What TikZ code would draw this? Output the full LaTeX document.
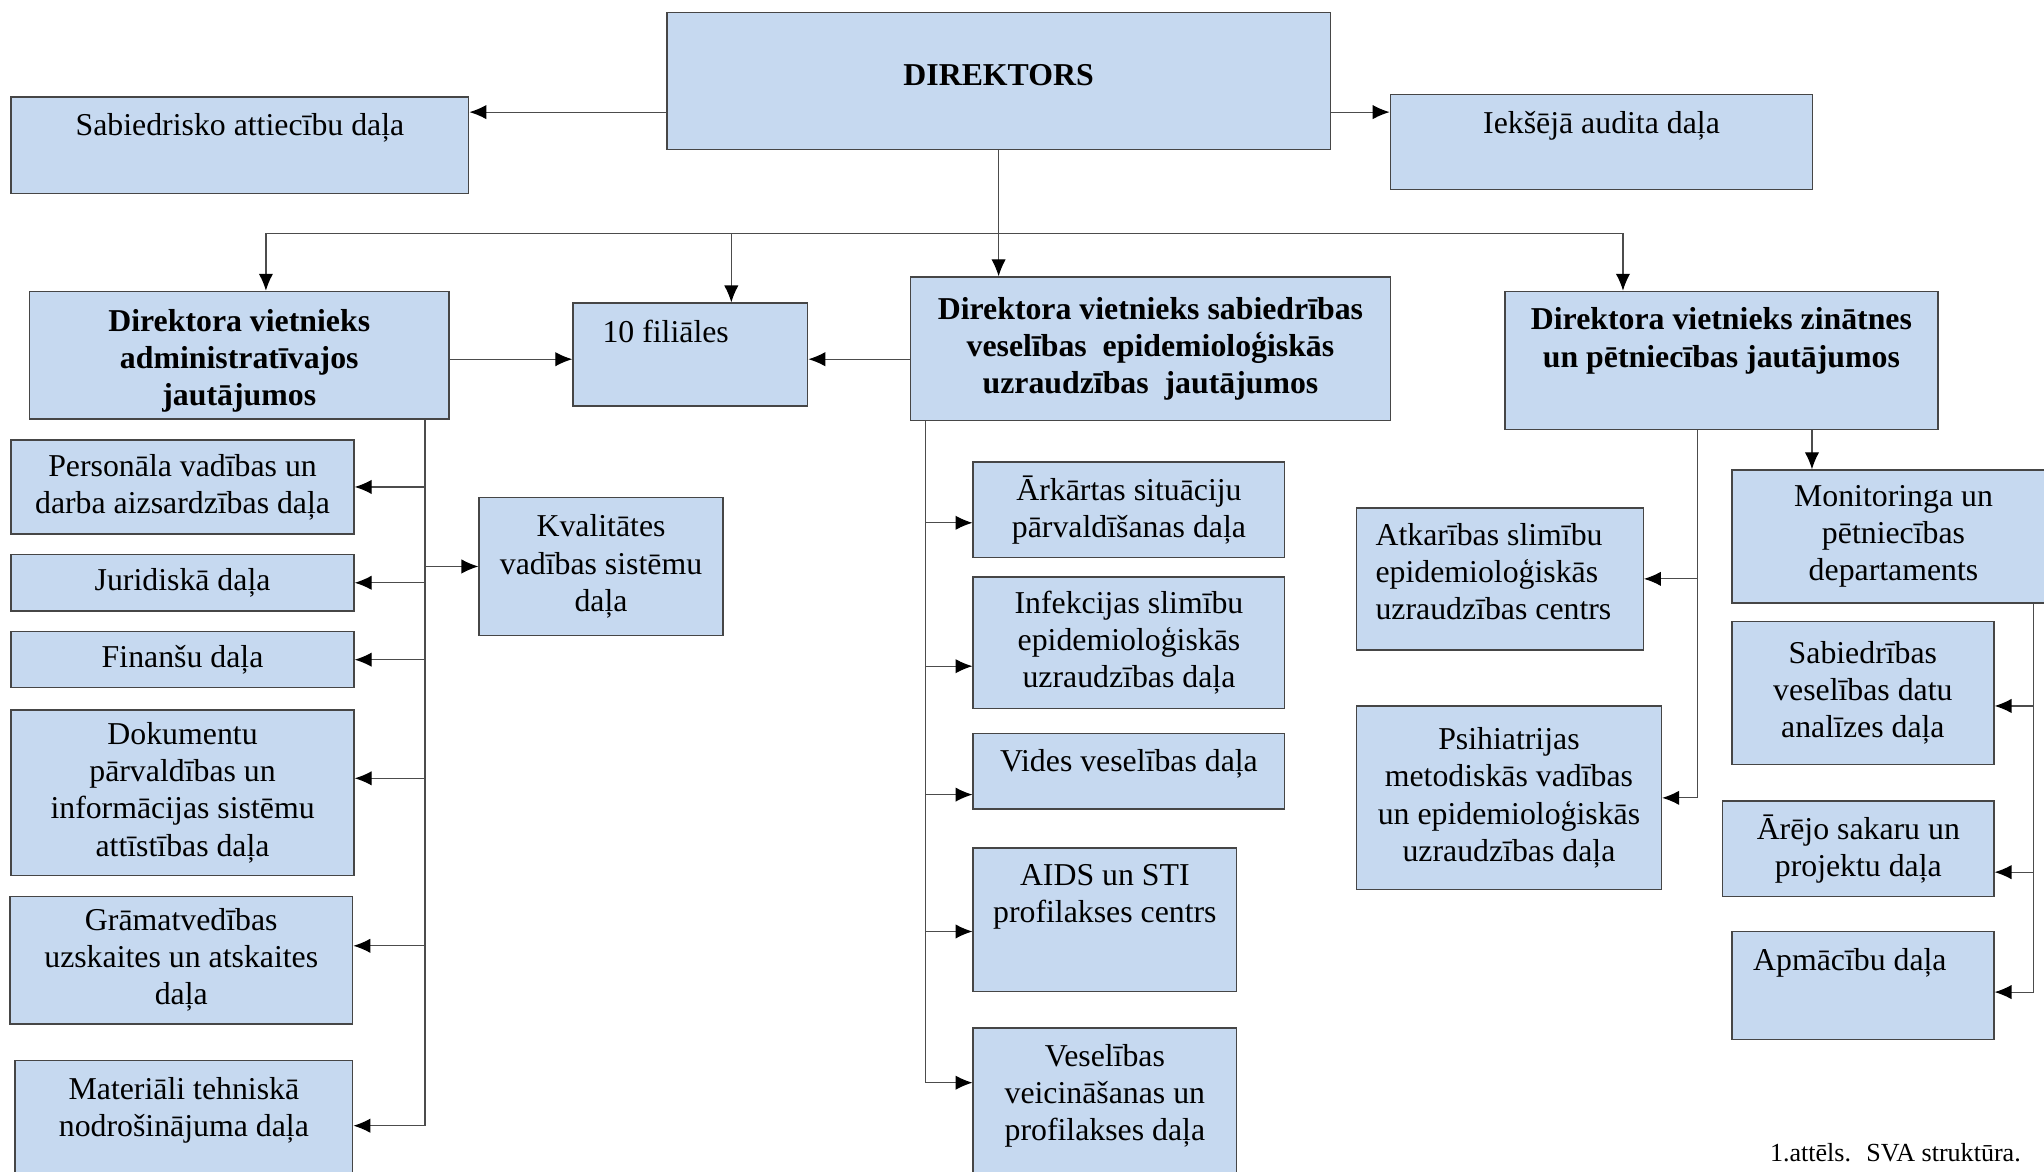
\documentclass[tikz,border=0pt]{standalone}
\usepackage{fontspec}
\setmainfont{Liberation Serif}
\usetikzlibrary{arrows.meta}

\definecolor{boxblue}{RGB}{198,217,240}
\definecolor{edgegray}{RGB}{70,70,70}

\tikzset{
  box/.style={draw=edgegray, fill=boxblue, line width=1.1pt, anchor=north west,
    inner sep=0pt, align=center, font=\fontsize{24.4}{28.5}\selectfont},
  headbox/.style={box, font=\bfseries\fontsize{24.4}{28.5}\selectfont},
  toptext/.style={anchor=north, yshift=-13pt, align=center, inner sep=0pt},
  link/.style={draw=black!70, line width=0.9pt},
}

\begin{document}
\begin{tikzpicture}[x=1pt, y=-1pt, >={Latex[length=13pt,width=11pt,color=black]},
  every label/.style={font=\fontsize{24.4}{28.5}\selectfont}]

  \useasboundingbox (0,0) rectangle (1568,899);
  \clip (0,0) rectangle (1568,899);

  % Top level
  \node[headbox, minimum width=509pt, minimum height=105pt,
    label={[toptext, yshift=-27pt, font=\bfseries\fontsize{24.4}{28.5}\selectfont]north:DIREKTORS}] (dir) at (511,9) {};
  \node[box, minimum width=351pt, minimum height=74pt,
    label={[toptext]north:Sabiedrisko attiecību daļa}] (sab) at (8,74) {};
  \node[box, minimum width=324pt, minimum height=73pt,
    label={[toptext]north:Iekšējā audita daļa}] (iek) at (1066,72) {};

  % Deputies
  \node[headbox, minimum width=322pt, minimum height=98pt,
    label={[toptext, yshift=-1pt, font=\bfseries\fontsize{24.4}{28.5}\selectfont]north:Direktora vietnieks\\administratīvajos\\jautājumos}] (adm) at (22,223) {};
  \node[box, minimum width=180pt, minimum height=79pt,
    label={[toptext, anchor=north west, xshift=23pt]north west:10 filiāles}] (fil) at (439,232) {};
  \node[headbox, minimum width=368pt, minimum height=110pt] (vsab) at (698,212)
    {Direktora vietnieks sabiedrības\\veselības~ epidemioloģiskās\\uzraudzības~ jautājumos};
  \node[box, minimum width=332pt, minimum height=106pt,
    label={[toptext, font=\bfseries\fontsize{24.4}{28.5}\selectfont]north:Direktora vietnieks zinātnes\\un pētniecības jautājumos}] (zin) at (1154,223) {};

  % Administrative units
  \node[box, minimum width=263pt, minimum height=72pt] (pers) at (8,337) {Personāla vadības un\\darba aizsardzības daļa};
  \node[box, minimum width=263pt, minimum height=43pt] (jur) at (8,425) {Juridiskā daļa};
  \node[box, minimum width=263pt, minimum height=43pt] (fin) at (8,484) {Finanšu daļa};
  \node[box, minimum width=263pt, minimum height=127pt] (dok) at (8,544)
    {Dokumentu\\pārvaldības un\\informācijas sistēmu\\attīstības daļa};
  \node[box, minimum width=263pt, minimum height=98pt] (gram) at (7,687)
    {Grāmatvedības\\uzskaites un atskaites\\daļa};
  \node[box, minimum width=259pt, minimum height=100pt,
    label={[toptext]north:Materiāli tehniskā\\nodrošinājuma daļa}] (mat) at (11,813) {};
  \node[box, minimum width=187pt, minimum height=106pt] (kval) at (367,381)
    {Kvalitātes\\vadības sistēmu\\daļa};

  % Public health units
  \node[box, minimum width=239pt, minimum height=73pt] (ark) at (746,354) {Ārkārtas situāciju\\pārvaldīšanas daļa};
  \node[box, minimum width=239pt, minimum height=101pt] (inf) at (746,442)
    {Infekcijas slimību\\epidemioloģiskās\\uzraudzības daļa};
  \node[box, minimum width=239pt, minimum height=58pt,
    label={[toptext]north:Vides veselības daļa}] (vid) at (746,562) {};
  \node[box, minimum width=202pt, minimum height=110pt,
    label={[toptext]north:AIDS un STI\\profilakses centrs}] (aids) at (746,650) {};
  \node[box, minimum width=202pt, minimum height=112pt,
    label={[toptext]north:Veselības\\veicināšanas un\\profilakses daļa}] (vesp) at (746,788) {};

  % Science units
  \node[box, minimum width=220pt, minimum height=109pt,
    label={[toptext, anchor=north west, yshift=1pt, xshift=15pt, align=left]north west:Atkarības slimību\\epidemioloģiskās\\uzraudzības centrs}] (atk) at (1040,389) {};
  \node[box, minimum width=234pt, minimum height=141pt] (psi) at (1040,541)
    {Psihiatrijas\\metodiskās vadības\\un epidemioloģiskās\\uzraudzības daļa};
  \node[box, minimum width=248pt, minimum height=102pt] (mon) at (1328,360)
    {Monitoringa un\\pētniecības\\departaments};
  \node[box, minimum width=201pt, minimum height=110pt] (sabv) at (1328,476)
    {Sabiedrības\\veselības datu\\analīzes daļa};
  \node[box, minimum width=208pt, minimum height=73pt] (arej) at (1321,614) {Ārējo sakaru un\\projektu daļa};
  \node[box, minimum width=201pt, minimum height=83pt,
    label={[toptext, xshift=-10pt]north:Apmācību daļa}] (apm) at (1328,714) {};

  % Caption
  \node[font=\fontsize{20}{24}\selectfont] (cap) at (1454,884) {1.attēls.~ SVA struktūra.};

  % Links from the director
  \coordinate (busL) at (204,179);
  \coordinate (busF) at (561,179);
  \coordinate (busR) at (1245,179);
  \draw[link, ->] (dir.west |- 0,86) -- (sab.east |- 0,86);
  \draw[link, ->] (dir.east |- 0,86) -- (iek.west |- 0,86);
  \draw[link, ->] (dir.south) -- (dir.south |- vsab.north);
  \draw[link] (busL) -- (busR);
  \draw[link, ->] (busL) -- (busL |- adm.north);
  \draw[link, ->] (busF) -- (busF |- fil.north);
  \draw[link, ->] (busR) -- (busR |- zin.north);
  \draw[link, ->] ([yshift=-3pt]adm.east) -- ([yshift=-3pt]adm.east -| fil.west);
  \draw[link, ->] ([yshift=-3pt]vsab.west |- adm.east) -- ([yshift=-3pt]fil.east |- adm.east);

  % Administrative branch
  \coordinate (admX) at (326,0);
  \draw[link] (adm.south -| admX) -- (mat.east -| admX);
  \foreach \c/\s in {pers/0, jur/0, fin/0, dok/11, gram/11, mat/0}
    \draw[link, ->] ([yshift=\s pt]\c.east -| admX) -- ([yshift=\s pt]\c.east);
  \draw[link, ->] (kval.west -| admX) -- (kval.west);

  % Public health branch
  \coordinate (sabX) at (710,0);
  \draw[link] (vsab.south -| sabX) -- ([yshift=14pt]vesp.west -| sabX);
  \foreach \c/\s in {ark/-10, inf/-18, vid/-18, aids/-9, vesp/14}
    \draw[link, ->] ([yshift=\s pt]\c.west -| sabX) -- ([yshift=\s pt]\c.west);

  % Science branch
  \coordinate (zinX) at (1302,0);
  \draw[link] (zin.south -| zinX) -- (psi.east -| zinX);
  \foreach \c in {atk, psi}
    \draw[link, ->] (\c.east -| zinX) -- (\c.east);
  \draw[link, ->] (zin.south -| 1390,0) -- (mon.north -| 1390,0);

  % Monitoring branch
  \coordinate (monX) at (1560,0);
  \draw[link] (mon.south -| monX) -- ([yshift=-5pt]apm.east -| monX);
  \foreach \c/\s in {sabv/-10, arej/-18, apm/-5}
    \draw[link, ->] ([yshift=\s pt]\c.east -| monX) -- ([yshift=\s pt]\c.east);

\end{tikzpicture}
\end{document}
